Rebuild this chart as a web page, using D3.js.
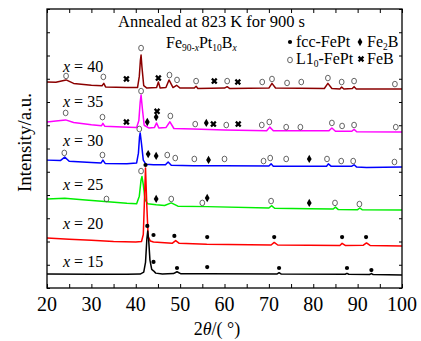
<!DOCTYPE html>
<html>
<head>
<meta charset="utf-8">
<script src="https://cdn.jsdelivr.net/npm/d3@7"></script>
<style>
  body { margin: 0; background: #fff; }
  text { font-family: "Liberation Serif", "Times New Roman", serif; }
</style>
</head>
<body>
<div id="chart"></div>
<script>
// sample names, top to bottom
var samples = ["x = 40", "x = 35", "x = 30", "x = 25", "x = 20", "x = 15"];
var xTickValues = [20, 30, 40, 50, 60, 70, 80, 90, 100];

// traces: [2theta, intensity (a.u.)]
var trace40 = [[20,8.86],[22,8.85],[24.3,8.95],[26,8.8],[30,8.72],[32.4,8.7],[32.8,8.8],[33.2,8.65],[38,8.62],[40.4,8.62],[40.8,9.1],[41.05,9.8],[41.2,10.02],[41.4,9.5],[41.8,8.7],[42.5,8.6],[44.7,8.62],[45.1,8.86],[45.5,8.6],[46.8,8.62],[47.5,8.95],[48.4,8.62],[49.2,8.72],[50,8.6],[53.2,8.6],[53.6,8.68],[54,8.58],[60,8.6],[60.6,8.66],[61.2,8.58],[70,8.6],[70.7,8.8],[71.5,8.6],[82.5,8.58],[83.3,8.8],[84.2,8.58],[86,8.56],[86.4,8.64],[86.9,8.56],[88.8,8.58],[89.2,8.66],[89.7,8.56],[100,8.56]];
var trace35 = [[20,7.14],[22,7.18],[24.2,7.23],[26,7.12],[30,7.02],[32.3,6.98],[32.6,7.08],[33,6.96],[37,6.92],[40.2,6.9],[40.7,7.2],[41.0,8.0],[41.2,8.3],[41.5,7.7],[41.9,7.0],[43,6.88],[44.2,6.9],[44.7,7.1],[45.2,6.88],[46.8,6.9],[47.7,7.15],[48.6,6.86],[53,6.84],[60,6.8],[69.5,6.76],[70.2,6.92],[71,6.76],[83.5,6.76],[84.2,6.88],[85,6.74],[88.7,6.74],[89.2,6.82],[89.8,6.72],[100,6.71]];
var trace30 = [[20,5.5],[23,5.48],[24,5.63],[25,5.45],[30,5.4],[32.2,5.38],[32.6,5.5],[33.1,5.36],[38,5.34],[40.2,5.38],[40.6,5.8],[40.85,6.5],[41.0,6.67],[41.3,6.2],[41.7,5.5],[42.3,5.32],[44,5.3],[46.7,5.3],[47.3,5.42],[48,5.28],[53,5.26],[60,5.26],[70,5.25],[70.5,5.34],[71,5.24],[83,5.24],[83.4,5.34],[84,5.24],[88.7,5.24],[89.2,5.3],[89.8,5.2],[92,5.18],[100,5.2]];
var trace25 = [[20,3.83],[24,3.86],[28,3.8],[33,3.72],[38,3.64],[40.2,3.62],[40.8,3.95],[41.2,4.65],[41.4,4.8],[41.7,4.45],[42.1,3.8],[42.7,3.62],[44.6,3.58],[46.5,3.55],[48,3.66],[49.5,3.52],[56.1,3.5],[70,3.44],[70.6,3.54],[71.3,3.43],[79.1,3.41],[84.5,3.4],[85,3.48],[85.6,3.38],[90,3.37],[90.5,3.44],[91,3.37],[100,3.35]];
var trace20 = [[20,2.15],[25,2.1],[30,2.05],[35,2.0],[40,1.98],[41.3,2.0],[41.7,2.3],[42.0,4.0],[42.2,5.16],[42.5,3.5],[42.8,2.2],[43.3,2.02],[44,1.98],[48.2,1.92],[49,2.04],[49.8,1.92],[56,1.88],[70.5,1.85],[71.2,1.96],[72,1.85],[86,1.83],[86.5,1.92],[87.2,1.83],[91.3,1.84],[92,1.94],[92.8,1.83],[100,1.81]];
var trace15 = [[20,0.6],[30,0.59],[38,0.59],[41,0.6],[41.8,0.68],[42.2,1.1],[42.5,2.1],[42.7,2.45],[42.9,2.1],[43.2,1.2],[43.6,0.8],[44.0,0.74],[44.5,0.64],[46,0.6],[48.5,0.62],[49.3,0.7],[50.2,0.61],[56.1,0.61],[71.8,0.6],[72.3,0.66],[72.8,0.6],[87.2,0.59],[87.6,0.63],[88,0.59],[92.7,0.58],[93.1,0.62],[93.5,0.58],[100,0.56]];

// phase markers: [2theta, intensity, phase]
var marks40 = [[24.3,9.12,"L10"],[32.7,9.08,"L10"],[37.9,8.99,"FeB"],[41.2,10.32,"L10"],[45.1,9.03,"FeB"],[47.6,9.16,"L10"],[49.3,8.95,"L10"],[53.6,8.9,"L10"],[57.7,8.9,"FeB"],[60.6,8.9,"L10"],[63.0,8.86,"FeB"],[68.5,8.86,"L10"],[70.7,8.99,"L10"],[74.1,8.82,"L10"],[77.3,8.86,"L10"],[83.3,9.03,"L10"],[86.4,8.86,"L10"],[89.2,8.9,"L10"],[98.4,8.77,"L10"]];
var marks35 = [[24.2,7.53,"L10"],[32.5,7.35,"L10"],[37.9,7.14,"FeB"],[41.2,8.47,"L10"],[42.6,7.14,"Fe2B"],[44.6,7.35,"Fe2B"],[44.8,7.6,"FeB"],[47.8,7.4,"L10"],[53.4,7.05,"L10"],[55.9,7.1,"Fe2B"],[57.5,7.05,"FeB"],[60.4,7.01,"L10"],[63.1,7.05,"FeB"],[68.4,7.01,"L10"],[70.1,7.14,"L10"],[73.9,6.92,"L10"],[77.1,6.92,"L10"],[84.2,7.1,"L10"],[86.5,6.97,"L10"],[89.2,7.01,"L10"],[98.6,6.92,"L10"]];
var marks30 = [[23.9,5.81,"L10"],[32.5,5.72,"L10"],[40.8,6.84,"L10"],[42.8,5.76,"Fe2B"],[44.6,5.68,"Fe2B"],[47.1,5.72,"L10"],[48.9,5.59,"L10"],[53.2,5.55,"L10"],[56.4,5.51,"Fe2B"],[60.0,5.55,"L10"],[68.8,5.46,"L10"],[70.3,5.59,"L10"],[73.9,5.55,"L10"],[79.1,5.55,"Fe2B"],[83.1,5.55,"L10"],[86.3,5.46,"L10"],[89.0,5.46,"L10"],[98.3,5.42,"L10"]];
var marks25 = [[33.4,3.83,"L10"],[41.2,5.03,"L10"],[44.6,3.83,"Fe2B"],[48.0,3.83,"L10"],[55.0,3.66,"L10"],[56.1,3.87,"Fe2B"],[70.5,3.74,"L10"],[79.1,3.66,"Fe2B"],[84.9,3.66,"L10"],[90.4,3.61,"L10"]];
var marks20 = [[42.2,5.29,"fcc"],[44.0,2.28,"fcc"],[48.7,2.24,"fcc"],[56.1,2.19,"fcc"],[71.2,2.19,"fcc"],[86.5,2.19,"fcc"],[91.9,2.19,"fcc"]];
var marks15 = [[42.6,2.67,"fcc"],[44.0,1.12,"fcc"],[49.3,0.86,"fcc"],[56.1,0.9,"fcc"],[72.3,0.86,"fcc"],[87.6,0.86,"fcc"],[93.1,0.77,"fcc"]];

var traces = [trace40, trace35, trace30, trace25, trace20, trace15];
var marks = [marks40, marks35, marks30, marks25, marks20, marks15];
// where each sample name sits (intensity units)
var sampleLabelY = [9.3, 7.8, 6.1, 4.2, 2.55, 0.9];

var colors = ["#8b0000", "#ff00ff", "#0000ff", "#00ee00", "#ff0000", "#000000"];

var width = 421, height = 341;
var margin = { top: 9, right: 19, bottom: 53, left: 47 };
var w = width - margin.left - margin.right;
var h = height - margin.top - margin.bottom;

var svg = d3.select('#chart')
  .append('svg')
  .attr('width', width)
  .attr('height', height);

var g = svg.append('g')
  .attr('transform', 'translate(' + margin.left + ',' + margin.top + ')');

var x = d3.scaleLinear().domain([20, 100]).range([0, w]);
var y = d3.scaleLinear().domain([0, 12]).range([h, 0]);

// axes, ticks pointing inward
var minorX = d3.range(20, 101, 5);
g.append('g').attr('transform', 'translate(0,' + h + ')')
  .call(d3.axisBottom(x).tickValues(minorX).tickSizeInner(-4).tickSizeOuter(0).tickFormat(''));
g.append('g')
  .call(d3.axisTop(x).tickValues(minorX).tickSizeInner(-4).tickSizeOuter(0).tickFormat(''));
g.append('g')
  .call(d3.axisLeft(y).ticks(12).tickSizeInner(-3).tickSizeOuter(0).tickFormat(''));
g.append('g').attr('transform', 'translate(' + w + ',0)')
  .call(d3.axisRight(y).ticks(12).tickSizeInner(-3).tickSizeOuter(0).tickFormat(''));
g.selectAll('.domain').remove();
g.selectAll('.tick line').attr('stroke', '#000').attr('stroke-width', 1);

// tick labels
g.selectAll('.xlab')
  .data(xTickValues)
  .enter().append('text')
  .attr('x', function (d) { return x(d); })
  .attr('y', h + 23)
  .attr('text-anchor', 'middle')
  .style('font-size', '20px')
  .text(function (d) { return d; });

// curves
var line = d3.line()
  .x(function (d) { return x(d[0]); })
  .y(function (d) { return y(d[1]); });

g.selectAll('.trace')
  .data(traces)
  .enter().append('path')
  .attr('d', line)
  .attr('fill', 'none')
  .attr('stroke', function (d, i) { return colors[i]; })
  .attr('stroke-width', 1.5)
  .attr('stroke-linejoin', 'round');

// frame
g.append('rect')
  .attr('width', w).attr('height', h)
  .attr('fill', 'none').attr('stroke', '#000').attr('stroke-width', 1.3);

// marker shapes
function drawMark(sel, kind) {
  if (kind === "L10") {
    sel.append('ellipse').attr('rx', 2.4).attr('ry', 2.8)
      .attr('fill', 'none').attr('stroke', '#555').attr('stroke-width', 0.9);
  } else if (kind === "fcc") {
    sel.append('circle').attr('r', 2.1).attr('fill', '#000');
  } else if (kind === "Fe2B") {
    sel.append('path').attr('d', d3.symbol().type(d3.symbolDiamond).size(20)).attr('fill', '#000');
  } else {
    sel.append('path').attr('d', d3.symbol().type(d3.symbolCross).size(26))
      .attr('transform', 'rotate(45)').attr('fill', '#000');
  }
}

marks.forEach(function (list) {
  list.forEach(function (m) {
    var mg = g.append('g').attr('transform', 'translate(' + x(m[0]) + ',' + y(m[1]) + ')');
    drawMark(mg, m[2]);
  });
});

// sample names
var sl = g.selectAll('.sample')
  .data(samples)
  .enter().append('text')
  .attr('x', 16)
  .attr('y', function (d, i) { return y(sampleLabelY[i]); })
  .style('font-size', '16px');
sl.append('tspan').style('font-style', 'italic').text('x');
sl.append('tspan').text(function (d) { return d.slice(1); });

// title
svg.append('text').attr('x', 118).attr('y', 27).style('font-size', '16.5px')
  .text('Annealed at 823 K for 900 s');

var formula = svg.append('text').attr('x', 166).attr('y', 48).style('font-size', '16px');
formula.append('tspan').text('Fe');
formula.append('tspan').attr('dy', 3).style('font-size', '9.5px').text('90-');
formula.append('tspan').style('font-size', '9.5px').style('font-style', 'italic').text('x');
formula.append('tspan').attr('dy', -3).text('Pt');
formula.append('tspan').attr('dy', 3).style('font-size', '9.5px').text('10');
formula.append('tspan').attr('dy', -3).text('B');
formula.append('tspan').attr('dy', 3).style('font-size', '9.5px').style('font-style', 'italic').text('x');

// legend
var legend = svg.append('g');
drawMark(legend.append('g').attr('transform', 'translate(290,42)'), "fcc");
drawMark(legend.append('g').attr('transform', 'translate(360,42)'), "Fe2B");
drawMark(legend.append('g').attr('transform', 'translate(290,60)'), "L10");
drawMark(legend.append('g').attr('transform', 'translate(361,59)'), "FeB");
legend.append('text').attr('x', 296).attr('y', 47).style('font-size', '16px').text('fcc-FePt');
var fe2b = legend.append('text').attr('x', 367).attr('y', 47).style('font-size', '16px');
fe2b.append('tspan').text('Fe');
fe2b.append('tspan').attr('dy', 3).style('font-size', '9.5px').text('2');
fe2b.append('tspan').attr('dy', -3).text('B');
var l10 = legend.append('text').attr('x', 296).attr('y', 64).style('font-size', '16px');
l10.append('tspan').text('L1');
l10.append('tspan').attr('dy', 3).style('font-size', '9.5px').text('0');
l10.append('tspan').attr('dy', -3).text('-FePt');
legend.append('text').attr('x', 367).attr('y', 64).style('font-size', '16px').text('FeB');

// axis titles
svg.append('text')
  .attr('transform', 'translate(31,' + (margin.top + h / 2 - 6) + ') rotate(-90)')
  .attr('text-anchor', 'middle')
  .style('font-size', '19px')
  .text('Intensity/a.u.');

var xt = svg.append('text').attr('x', 217).attr('y', 335)
  .attr('text-anchor', 'middle').style('font-size', '18px');
xt.append('tspan').text('2');
xt.append('tspan').style('font-style', 'italic').text('θ');
xt.append('tspan').text('/( °)');
</script>
</body>
</html>
